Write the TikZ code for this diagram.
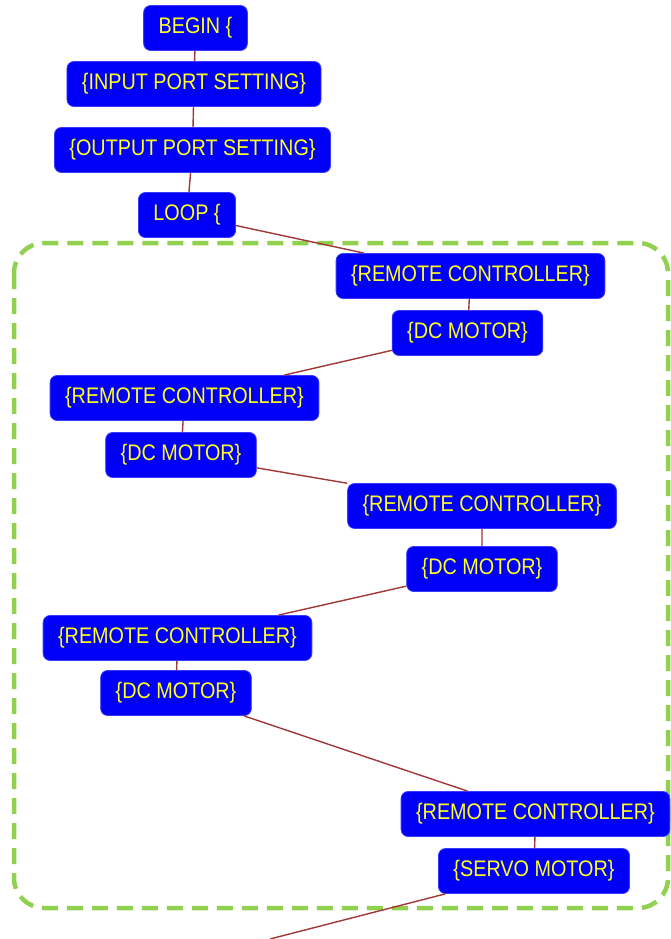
\documentclass[tikz,border=0pt]{standalone}
\usepackage{fontspec}
\setmainfont[FakeStretch=0.88]{Liberation Sans}
\definecolor{bleu}{HTML}{0000F8}
\definecolor{bord}{HTML}{3A3AFF}
\definecolor{jaune}{HTML}{FFFF20}
\definecolor{lien}{HTML}{A03838}
\definecolor{vert}{HTML}{92D050}
\begin{document}
\begin{tikzpicture}[
    x=1pt, y=-1pt,  % On travaille en pixels, l'axe y vers le bas
    % Réglages des blocs et des liaisons
    block/.style={draw=bord, line width=0.8pt, fill=bleu, text=jaune, rounded corners=7pt,
        font=\fontsize{22.5}{24}\selectfont, minimum height=45pt, inner xsep=15pt},
    link/.style={draw=lien, line width=1.4pt},
    loopframe/.style={draw=vert, line width=4.5pt, rounded corners=30pt, dash pattern=on 16pt off 9pt}
]
\useasboundingbox (0,0) rectangle (671,939);
% Cadre de la boucle
\draw[loopframe] (14,243) rectangle (668,908);
% Début du programme
\node[block] (begin) at (195.5,28) {BEGIN \{};
\node[block] (input) at (194,84) {\{INPUT PORT SETTING\}};
\node[block] (output) at (192.5,150) {\{OUTPUT PORT SETTING\}};
\node[block] (loop) at (187,215) {LOOP \{};
% Corps de la boucle
\node[block] (rc1) at (470.5,276) {\{REMOTE CONTROLLER\}};
\node[block] (dc1) at (467.5,333) {\{DC MOTOR\}};
\node[block] (rc2) at (184.5,398) {\{REMOTE CONTROLLER\}};
\node[block] (dc2) at (181,455) {\{DC MOTOR\}};
\node[block] (rc3) at (482,506) {\{REMOTE CONTROLLER\}};
\node[block] (dc3) at (482,569) {\{DC MOTOR\}};
\node[block] (rc4) at (177.5,638) {\{REMOTE CONTROLLER\}};
\node[block] (dc4) at (176,693) {\{DC MOTOR\}};
\node[block] (rc5) at (535.5,814) {\{REMOTE CONTROLLER\}};
\node[block] (servo) at (534,871) {\{SERVO MOTOR\}};
\coordinate (suite) at (270,939);
% Liaisons
\path[link] (begin) -- (input) (input) -- (output) (output) -- (loop) (loop) -- (rc1)
    (rc1) -- (dc1) (dc1) -- (rc2) (rc2) -- (dc2) (dc2) -- (rc3) (rc3) -- (dc3)
    (dc3) -- (rc4) (rc4) -- (dc4) (dc4) -- (rc5) (rc5) -- (servo) (servo) -- (suite);
\end{tikzpicture}
\end{document}
